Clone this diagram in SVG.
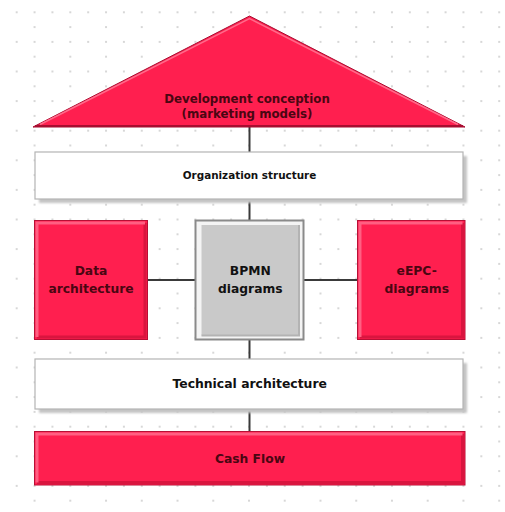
<svg xmlns="http://www.w3.org/2000/svg" width="505" height="512" viewBox="0 0 505 512">
<defs>
<pattern id="dots" patternUnits="userSpaceOnUse" x="15.7" y="11.3" width="35.74" height="29.6">
<circle cx="1" cy="1" r="0.75" fill="#9a9a9a"/>
<circle cx="18.87" cy="1" r="0.75" fill="#9a9a9a"/>
<circle cx="18.87" cy="15.8" r="0.75" fill="#9a9a9a"/>
</pattern>
<filter id="shadow" x="-5%" y="-20%" width="115%" height="150%">
<feGaussianBlur stdDeviation="1.2"/>
</filter>
<style>
.red{fill:#ff1f4f;stroke:#b80f35;stroke-width:1}
.hi{fill:none;stroke:#ff5f82;stroke-width:3}
.lo{fill:none;stroke:#d9153f;stroke-width:3}
.white{fill:#ffffff;stroke:#b4b4b4;stroke-width:1.2}
.shd{fill:#c4c4c4;filter:url(#shadow)}
.conn{stroke:#3a3a3a;stroke-width:2;fill:none}
.t{font-family:"DejaVu Sans","Liberation Sans",sans-serif;font-weight:bold;text-anchor:middle}
.tr{fill:#4a0612}
.tb{fill:#111111}
</style>
</defs>
<rect x="0" y="0" width="505" height="512" fill="#ffffff"/>
<rect x="10" y="5" width="494" height="502" fill="url(#dots)"/>

<g id="connectors">
<line class="conn" x1="249.5" y1="126" x2="249.5" y2="152"/>
<line class="conn" x1="249.5" y1="199" x2="249.5" y2="220"/>
<line class="conn" x1="249.5" y1="339" x2="249.5" y2="359"/>
<line class="conn" x1="249.5" y1="409" x2="249.5" y2="431"/>
<line class="conn" x1="147" y1="280" x2="196" y2="280"/>
<line class="conn" x1="303" y1="280" x2="358" y2="280"/>
</g>

<g id="development-conception">
<polygon points="249.5,16 465,127 33,127" fill="#ff1f4f" stroke="#a80d30" stroke-width="1"/>
<polyline points="40,124.5 249.5,18.5 458,124.5" fill="none" stroke="#ff6a8a" stroke-width="1.5"/>
<line x1="35" y1="126" x2="463" y2="126" stroke="#a80d30" stroke-width="2"/>
<text class="t tr" x="247" y="103" font-size="11.8">Development conception</text>
<text class="t tr" x="247" y="118" font-size="11.8">(marketing models)</text>
</g>

<g id="organization-structure">
<rect class="shd" x="39" y="156" width="428" height="47"/>
<rect class="white" x="35" y="152" width="428" height="47"/>
<text class="t tb" x="249.5" y="179" font-size="10.4">Organization structure</text>
</g>

<g id="data-architecture">
<rect class="red" x="34.5" y="220.5" width="113" height="119"/>
<polyline class="lo" points="37,337 145,337 145,223"/>
<polyline class="hi" points="37,337 37,223 145,223"/>
<text class="t tr" x="91" y="275" font-size="12.3">Data</text>
<text class="t tr" x="91" y="292.7" font-size="12.3">architecture</text>
</g>

<g id="bpmn-diagrams">
<rect x="195.5" y="220.5" width="108" height="119" fill="#f4f4f4" stroke="#8a8a8a" stroke-width="2"/>
<rect x="201.5" y="225" width="97.5" height="110.5" fill="#c9c9c9"/>
<polyline points="201.5,335.5 299,335.5 299,225" fill="none" stroke="#b3b3b3" stroke-width="2"/>
<text class="t tb" x="250.3" y="275" font-size="12.3">BPMN</text>
<text class="t tb" x="250.3" y="292.5" font-size="12.3">diagrams</text>
</g>

<g id="eepc-diagrams">
<rect class="red" x="357.5" y="220.5" width="107.5" height="119"/>
<polyline class="lo" points="360,337 462.5,337 462.5,223"/>
<polyline class="hi" points="360,337 360,223 462.5,223"/>
<text class="t tr" x="416.7" y="275" font-size="12.3">eEPC-</text>
<text class="t tr" x="416.7" y="292.5" font-size="12.3">diagrams</text>
</g>

<g id="technical-architecture">
<rect class="shd" x="39" y="363" width="428" height="50"/>
<rect class="white" x="35" y="359" width="428" height="50"/>
<text class="t tb" x="249.7" y="387.7" font-size="12.4">Technical architecture</text>
</g>

<g id="cash-flow">
<rect class="red" x="34.5" y="431.5" width="430.5" height="53.5"/>
<polyline class="lo" points="37,482.5 462.5,482.5 462.5,434"/>
<polyline class="hi" points="37,482.5 37,434 462.5,434"/>
<text class="t tr" x="250" y="462.7" font-size="12.3">Cash Flow</text>
</g>
</svg>
